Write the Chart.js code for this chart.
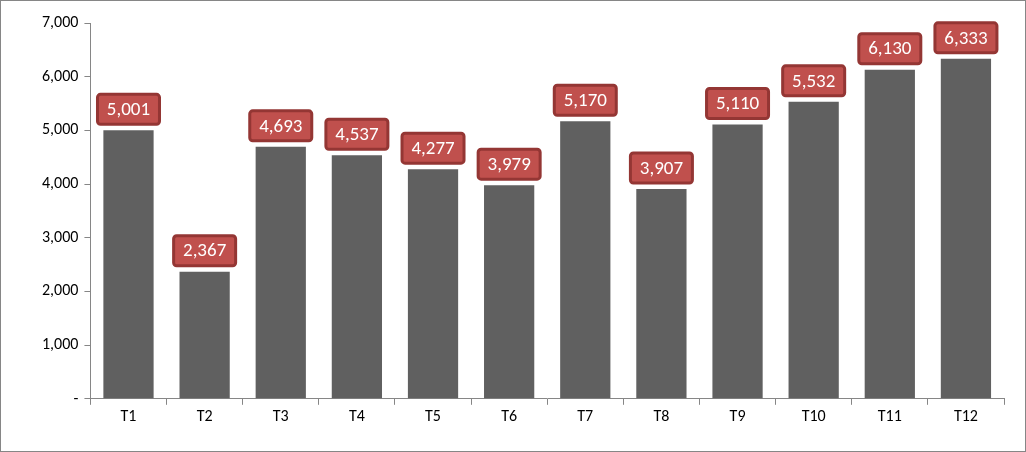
<!DOCTYPE html>
<html>
<head>
<meta charset="utf-8">
<script src="https://cdn.jsdelivr.net/npm/chart.js@4"></script>
<style>
  body { margin: 0; background: #fff; }
  #wrap { position: absolute; left: 0; top: 0; width: 1024px; height: 450px; border: 1px solid #868686; }
</style>
</head>
<body>
<div id="wrap"><canvas id="c" width="1024" height="450"></canvas></div>
<script>
const categories = ["T1", "T2", "T3", "T4", "T5", "T6", "T7", "T8", "T9", "T10", "T11", "T12"];
const values = [5001, 2367, 4693, 4537, 4277, 3979, 5170, 3907, 5110, 5532, 6130, 6333];

const fmt = v => v === 0 ? "-" : v.toLocaleString("en-US");

const labelBoxes = {
  id: "labelBoxes",
  afterDatasetsDraw(chart) {
    const ctx = chart.ctx;
    const meta = chart.getDatasetMeta(0);
    ctx.save();
    ctx.font = "19px Calibri, Carlito, 'Liberation Sans', sans-serif";
    ctx.textAlign = "center";
    ctx.textBaseline = "middle";
    meta.data.forEach((bar, i) => {
      const w = 62, h = 30;
      const x = bar.x - w / 2, y = bar.y - h - 6;
      ctx.beginPath();
      ctx.roundRect(x, y, w, h, 3);
      ctx.fillStyle = "#c0504d";
      ctx.fill();
      ctx.lineWidth = 3;
      ctx.strokeStyle = "#943634";
      ctx.stroke();
      ctx.fillStyle = "#ffffff";
      ctx.fillText(fmt(values[i]), bar.x, y + h / 2 + 1);
    });
    ctx.restore();
  }
};

new Chart(document.getElementById("c").getContext("2d"), {
  type: "bar",
  data: {
    labels: categories,
    datasets: [{ data: values, backgroundColor: "#606060", categoryPercentage: 0.66, barPercentage: 1 }]
  },
  options: {
    responsive: false,
    animation: false,
    layout: { padding: { left: 35, right: 21, top: 22, bottom: 21 } },
    plugins: { legend: { display: false }, tooltip: { enabled: false } },
    scales: {
      x: {
        grid: { display: true, drawOnChartArea: false, offset: true, color: "#868686", tickLength: 6 },
        border: { color: "#868686" },
        ticks: { color: "#000", font: { size: 16, family: "Calibri, Carlito, 'Liberation Sans', sans-serif" } }
      },
      y: {
        min: 0, max: 7000,
        grid: { drawOnChartArea: false, color: "#868686", tickLength: 6 },
        border: { color: "#868686" },
        ticks: {
          stepSize: 1000, color: "#000", padding: 6,
          font: { size: 16, family: "Calibri, Carlito, 'Liberation Sans', sans-serif" },
          callback: v => fmt(v)
        }
      }
    }
  },
  plugins: [labelBoxes]
});
</script>
</body>
</html>
